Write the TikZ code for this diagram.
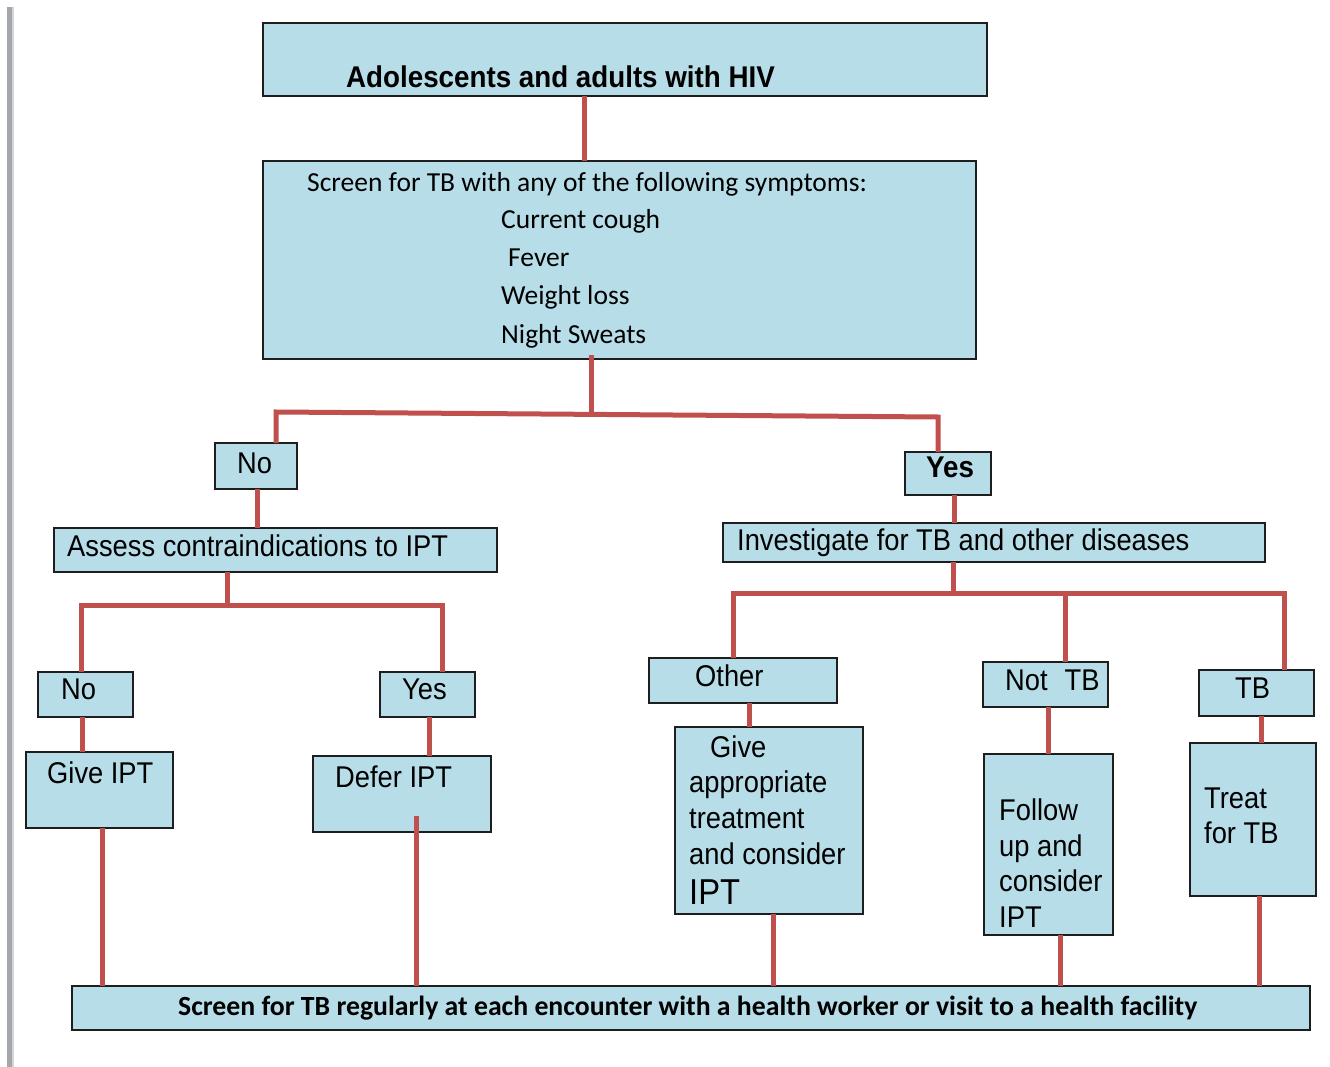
\documentclass[tikz,border=0pt]{standalone}
\usepackage{fontspec}
\usetikzlibrary{calc}
\newfontfamily\arlfont[FakeStretch=0.91]{Liberation Sans}
\newfontfamily\arlwide[FakeStretch=0.925]{Liberation Sans}
\newfontfamily\calfont{Carlito}
\definecolor{boxblue}{HTML}{B7DDE8}
\definecolor{linkred}{HTML}{C0504D}
\definecolor{edgeink}{HTML}{1E1E1E}
\definecolor{railgray}{HTML}{A3A6AA}
\definecolor{raillight}{HTML}{D3D6D9}

\begin{document}
\begin{tikzpicture}[x=1pt,y=-1pt,
  box/.style={draw=edgeink, line width=1.6pt, fill=boxblue, rectangle,
    inner sep=0pt, outer sep=0pt, anchor=north west},
  arltxt/.style={inner sep=0pt, anchor=base west,
    font=\arlfont\fontsize{30}{36}\selectfont},
  arlbold/.style={arltxt, font=\arlwide\bfseries\fontsize{30}{36}\selectfont},
  caltxt/.style={inner sep=0pt, anchor=base west,
    font=\calfont\fontsize{27.5}{33}\selectfont},
  calbold/.style={caltxt, font=\calfont\bfseries\fontsize{27.75}{33}\selectfont},
  conn/.style={draw=linkred, line width=5pt}]

\useasboundingbox (0,0) rectangle (1330,1067);

% page rail on the left
\fill[railgray] (7,7) rectangle (12,1067);
\fill[raillight] (12,7) rectangle (14,1067);

% ---------- boxes ----------
\node[box, minimum width=724pt, minimum height=73pt]  (title)   at (263,23)  {};
\node[box, minimum width=713pt, minimum height=198pt] (screen)  at (263,161) {};
\node[box, minimum width=82pt,  minimum height=46pt]  (no1)     at (215,443) {};
\node[box, minimum width=86pt,  minimum height=43pt]  (yes1)    at (905,452) {};
\node[box, minimum width=443pt, minimum height=44pt]  (assess)  at (54,528)  {};
\node[box, minimum width=542pt, minimum height=39pt]  (invest)  at (723,523) {};
\node[box, minimum width=95pt,  minimum height=45pt]  (no2)     at (38,672)  {};
\node[box, minimum width=95pt,  minimum height=45pt]  (yes2)    at (380,672) {};
\node[box, minimum width=147pt, minimum height=76pt]  (give)    at (26,752)  {};
\node[box, minimum width=178pt, minimum height=76pt]  (defer)   at (313,756) {};
\node[box, minimum width=188pt, minimum height=45pt]  (other)   at (649,658) {};
\node[box, minimum width=188pt, minimum height=187pt] (giveapp) at (675,727) {};
\node[box, minimum width=125pt, minimum height=45pt]  (notb)    at (983,662) {};
\node[box, minimum width=129pt, minimum height=181pt] (follow)  at (984,754) {};
\node[box, minimum width=115pt, minimum height=46pt]  (tb)      at (1199,670) {};
\node[box, minimum width=126pt, minimum height=153pt] (treat)   at (1190,743) {};
\node[box, minimum width=1238pt, minimum height=44pt] (bottom)  at (72,986)  {};

% ---------- texts ----------
\node[arlbold] (ttitle) at (346,88) {Adolescents and adults with HIV};

\node[caltxt] (ts1) at (307,192) {Screen for TB with any of the following symptoms:};
\node[caltxt] (ts2) at (501,229) {Current cough};
\node[caltxt] (ts3) at (508,267) {Fever};
\node[caltxt] (ts4) at (501,305) {Weight loss};
\node[caltxt] (ts5) at (501,343) {Night Sweats};

\node[arltxt]  (tno1)   at (237,473) {No};
\node[arlbold] (tyes1)  at (926,477) {Yes};
\node[arltxt]  (tass)   at (67,556)  {Assess contraindications to IPT};
\node[arltxt]  (tinv)   at (737,550) {Investigate for TB and other diseases};
\node[arltxt]  (tno2)   at (61,699)  {No};
\node[arltxt]  (tyes2)  at (402,699) {Yes};
\node[arltxt]  (tgive)  at (47,783)  {Give IPT};
\node[arltxt]  (tdefer) at (335,787) {Defer IPT};
\node[arltxt]  (tother) at (695,686) {Other};

\node[arltxt] (tga1) at (710,757) {Give};
\node[arltxt] (tga2) at (689,792) {appropriate};
\node[arltxt] (tga3) at (689,828) {treatment};
\node[arltxt] (tga4) at (689,864) {and consider};
\node[arltxt, font=\arlfont\fontsize{36}{40}\selectfont] (tga5) at (689,904) {IPT};

\node[arltxt] (tnotb) at (1005,690) {Not\hspace{17pt}TB};
\node[arltxt] (ttb)   at (1235,698) {TB};

\node[arltxt] (tf1) at (999,820) {Follow};
\node[arltxt] (tf2) at (999,856) {up and};
\node[arltxt] (tf3) at (999,891) {consider};
\node[arltxt] (tf4) at (999,927) {IPT};

\node[arltxt] (ttr1) at (1204,808) {Treat};
\node[arltxt] (ttr2) at (1204,843) {for TB};

\node[calbold] (tbottom) at (178,1015)
  {Screen for TB regularly at each encounter with a health worker or visit to a health facility};

% ---------- connectors ----------
\draw[conn] (title.south -| 584,0) -- (screen.north -| 584,0);

\draw[conn] ($(screen.south -| 591,0)+(0,-4)$) -- (591,414.5);
\draw[conn] (no1.north -| 276,0) -- (276,412) -- (938,417) -- (yes1.north -| 938,0);

\draw[conn] (no1.south -| 257,0) -- (assess.north -| 257,0);
\draw[conn] (assess.south -| 227,0) -- (227,605);
\draw[conn] (no2.north -| 81,0) -- (81,605) -- (442,605) -- (yes2.north -| 442,0);
\draw[conn] (no2.south -| 82,0) -- (give.north -| 82,0);
\draw[conn] (yes2.south -| 429,0) -- (defer.north -| 429,0);
\draw[conn] (give.south -| 102,0) -- (bottom.north -| 102,0);
\draw[conn] ($(defer.south -| 416,0)+(0,-16)$) -- (bottom.north -| 416,0);

\draw[conn] (yes1.south -| 954,0) -- (invest.north -| 954,0);
\draw[conn] (invest.south -| 953,0) -- (953,593);
\draw[conn] (other.north -| 733,0) -- (733,593) -- (1284,593) -- (tb.north -| 1284,0);
\draw[conn] (notb.north -| 1065,0) -- (1065,593);
\draw[conn] (other.south -| 749,0) -- (giveapp.north -| 749,0);
\draw[conn] (notb.south -| 1048,0) -- (follow.north -| 1048,0);
\draw[conn] (tb.south -| 1261,0) -- (treat.north -| 1261,0);
\draw[conn] (giveapp.south -| 773,0) -- (bottom.north -| 773,0);
\draw[conn] (follow.south -| 1060,0) -- (bottom.north -| 1060,0);
\draw[conn] (treat.south -| 1259,0) -- (bottom.north -| 1259,0);

\end{tikzpicture}
\end{document}
